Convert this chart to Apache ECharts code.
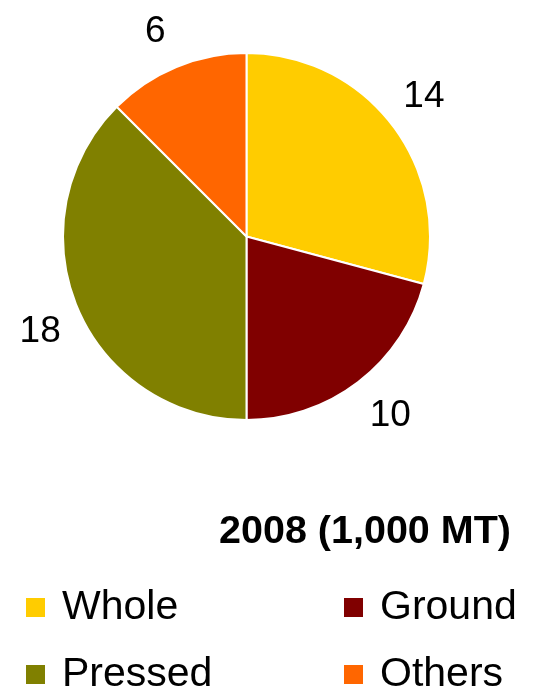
<!DOCTYPE html>
<html>
<head>
<meta charset="utf-8">
<script src="https://cdn.jsdelivr.net/npm/echarts@6/dist/echarts.min.js"></script>
<style>
  html, body { margin: 0; padding: 0; background: #fff; }
  #chart { width: 540px; height: 691px; }
</style>
</head>
<body>
<div id="chart"></div>
<script>
// pie of 2008 volumes, 1,000 MT
const categories = ['Whole', 'Ground', 'Pressed', 'Others'];
const values = [14, 10, 18, 6];
const colors = ['#FFCC00', '#800000', '#808000', '#FF6600'];
const titleText = '2008 (1,000 MT)';

const font = 'Liberation Sans, Arial, sans-serif';
const chart = echarts.init(document.getElementById('chart'));

const pieData = categories.map((name, i) => ({
  name: name,
  value: values[i],
  itemStyle: { color: colors[i] }
}));

// one legend per entry so the 2x2 grid lines up in columns
const legendSpots = { Whole: [24, 587], Ground: [342, 587], Pressed: [24, 654], Others: [342, 654] };
const legends = categories.map(name => ({
  left: legendSpots[name][0],
  top: legendSpots[name][1],
  padding: 0,
  itemWidth: 21,
  itemHeight: 21,
  icon: 'rect',
  selectedMode: false,
  data: [name],
  textStyle: {
    fontFamily: font,
    fontSize: 41,
    color: '#000',
    lineHeight: 36,
    padding: [0, 0, 0, 11]
  }
}));

chart.setOption({
  animation: false,
  title: {
    text: titleText,
    right: 24,
    top: 507,
    textStyle: { fontFamily: font, fontSize: 39.5, fontWeight: 'bold', color: '#000' }
  },
  legend: legends,
  series: [
    {
      type: 'pie',
      center: [246.5, 236.5],
      radius: [0, 183.5],
      startAngle: 90,
      clockwise: true,
      label: { show: false },
      labelLine: { show: false },
      itemStyle: { borderColor: '#fff', borderWidth: 2 },
      emphasis: { disabled: true },
      data: pieData
    },
    {
      // invisible ring used only to place the value labels around the pie
      type: 'pie',
      center: [247.5, 239.5],
      radius: [186, 262],
      startAngle: 91.5,
      clockwise: true,
      silent: true,
      itemStyle: { color: 'rgba(0,0,0,0)' },
      emphasis: { disabled: true },
      label: {
        show: true,
        position: 'inside',
        formatter: '{c}',
        fontFamily: font,
        fontSize: 37,
        color: '#000'
      },
      labelLine: { show: false },
      data: categories.map((name, i) => ({ name: name, value: values[i] }))
    }
  ]
});
</script>
</body>
</html>
